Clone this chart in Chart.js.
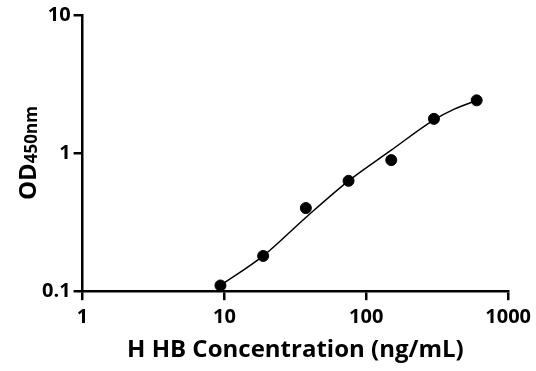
<!DOCTYPE html>
<html>
<head>
<meta charset="utf-8">
<script src="https://cdn.jsdelivr.net/npm/chart.js@4/dist/chart.umd.min.js"></script>
<style>
  html, body { margin: 0; padding: 0; background: #fff; }
  #wrap { width: 536px; height: 371px; }
</style>
</head>
<body>
<div id="wrap"><canvas id="c"></canvas></div>
<script>
// ---- data ----
const concentrations = [9.375, 18.75, 37.5, 75, 150, 300, 600];
const odValues = [0.11, 0.18, 0.40, 0.63, 0.89, 1.77, 2.41];
// fitted curve
const fitX = [9.375, 18.75, 37.5, 75, 150, 300, 417, 600];
const fitY = [0.11, 0.18, 0.342, 0.63, 1.05, 1.74, 2.08, 2.41];
const xTicks = [1, 10, 100, 1000];
const yTicks = [0.1, 1, 10];

const font = "'Open Sans', 'Noto Sans', sans-serif";

// y title, "450nm" drawn smaller like a subscript
const yTitlePlugin = {
  id: "yTitle",
  afterDraw(chart) {
    const ctx = chart.ctx;
    const area = chart.chartArea;
    ctx.save();
    ctx.translate(29, (area.top + area.bottom) / 2);
    ctx.rotate(-Math.PI / 2);
    ctx.fillStyle = "#000";
    ctx.textBaseline = "middle";
    ctx.textAlign = "left";
    ctx.font = "bold 24px " + font;
    const w1 = ctx.measureText("OD").width;
    ctx.font = "bold 17px " + font;
    const w2 = ctx.measureText("450nm").width;
    const start = -(w1 + w2) / 2;
    ctx.font = "bold 24px " + font;
    ctx.fillText("OD", start, 0);
    ctx.font = "bold 17px " + font;
    ctx.fillText("450nm", start + w1, 3);
    ctx.restore();
  }
};

new Chart(document.getElementById("c"), {
  type: "scatter",
  data: {
    datasets: [
      {
        label: "fit",
        data: fitX.map((x, i) => ({ x: x, y: fitY[i] })),
        showLine: true,
        borderColor: "#000",
        borderWidth: 1.5,
        pointRadius: 0,
        cubicInterpolationMode: "monotone"
      },
      {
        label: "OD",
        data: concentrations.map((x, i) => ({ x: x, y: odValues[i] })),
        backgroundColor: "#000",
        borderColor: "#000",
        pointRadius: 5.5,
        pointHoverRadius: 5.5
      }
    ]
  },
  options: {
    responsive: true,
    maintainAspectRatio: false,
    animation: false,
    layout: { padding: { left: 39, right: 22, top: 6, bottom: 6 } },
    plugins: {
      legend: { display: false },
      tooltip: { enabled: false }
    },
    scales: {
      x: {
        type: "logarithmic",
        min: 1,
        max: 1000,
        afterBuildTicks: axis => { axis.ticks = xTicks.map(v => ({ value: v })); },
        grid: { drawOnChartArea: false, drawTicks: true, tickLength: 9, color: "#000", lineWidth: 2.5 },
        border: { display: true, color: "#000", width: 2.5 },
        ticks: {
          color: "#000",
          font: { family: font, size: 20, weight: "bold" },
          padding: 5,
          maxRotation: 0,
          callback: v => String(v)
        },
        title: {
          display: true,
          text: "H HB Concentration (ng/mL)",
          color: "#000",
          font: { family: font, size: 24, weight: "bold" },
          padding: { top: 2, bottom: 0 }
        }
      },
      y: {
        type: "logarithmic",
        min: 0.1,
        max: 10,
        afterBuildTicks: axis => { axis.ticks = yTicks.map(v => ({ value: v })); },
        grid: { drawOnChartArea: false, drawTicks: true, tickLength: 9, color: "#000", lineWidth: 2.5 },
        border: { display: true, color: "#000", width: 2.5 },
        ticks: {
          color: "#000",
          font: { family: font, size: 20, weight: "bold" },
          padding: 3,
          callback: v => String(v)
        }
      }
    }
  },
  plugins: [yTitlePlugin]
});
</script>
</body>
</html>
